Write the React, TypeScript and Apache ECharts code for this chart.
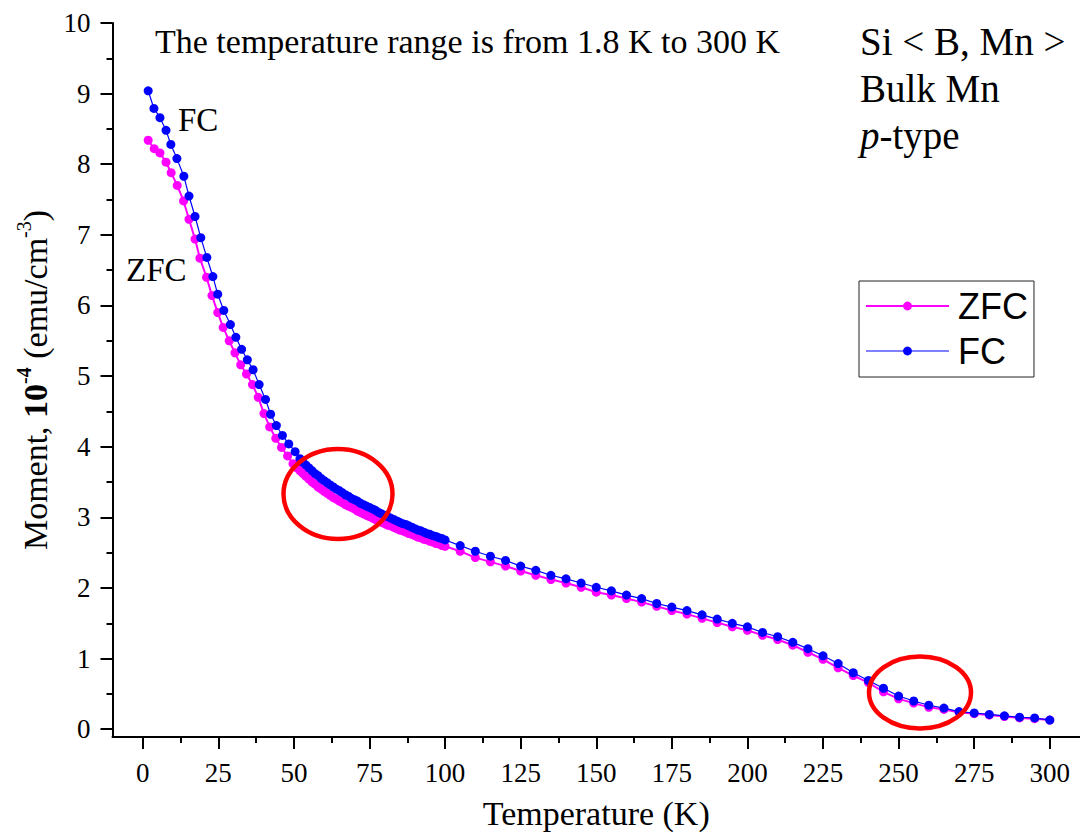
import React, { useEffect, useRef } from 'react';
import * as echarts from 'echarts';

// ---- data ----
const zfcLowT = [1.8, 3.8, 5.7, 7.7, 9.4, 11.4, 13.5, 15.3, 17.3, 18.9, 21.1, 22.9, 24.8, 26.6, 28.6, 30.5, 32.4, 34.3, 36.3, 38.2, 40.1, 42.0, 44.0, 45.9, 47.9, 49.7];
const zfcLowM = [8.34, 8.22, 8.16, 8.03, 7.88, 7.70, 7.48, 7.22, 6.94, 6.67, 6.40, 6.14, 5.90, 5.69, 5.50, 5.33, 5.16, 5.03, 4.88, 4.70, 4.47, 4.28, 4.12, 3.99, 3.87, 3.76];

const fcLowT = [1.8, 3.7, 5.7, 7.7, 9.3, 11.3, 13.6, 15.3, 17.3, 19.2, 21.2, 23.2, 24.8, 26.8, 29.0, 30.8, 32.7, 34.6, 36.5, 38.5, 40.6, 42.3, 44.2, 46.2, 48.3, 50.4];
const fcLowM = [9.04, 8.79, 8.66, 8.48, 8.28, 8.08, 7.83, 7.55, 7.26, 6.96, 6.68, 6.41, 6.16, 5.93, 5.73, 5.55, 5.38, 5.23, 5.09, 4.88, 4.67, 4.46, 4.30, 4.16, 4.04, 3.93];

const zfcDenseT = [51, 52, 53, 54, 55, 56, 57, 58, 59, 60, 61, 62, 63, 64, 65, 66, 67, 68, 69, 70, 71, 72, 73, 74, 75, 76, 77, 78, 79, 80, 81, 82, 83, 84, 85, 86, 87, 88, 89, 90, 91, 92, 93, 94, 95, 96, 97, 98, 99, 100];
const zfcDenseM = [3.70, 3.66, 3.62, 3.58, 3.54, 3.50, 3.47, 3.43, 3.40, 3.37, 3.34, 3.31, 3.28, 3.26, 3.23, 3.21, 3.18, 3.16, 3.14, 3.12, 3.09, 3.07, 3.05, 3.03, 3.01, 2.99, 2.97, 2.95, 2.93, 2.91, 2.89, 2.88, 2.86, 2.84, 2.82, 2.81, 2.79, 2.77, 2.76, 2.74, 2.72, 2.71, 2.69, 2.68, 2.66, 2.65, 2.63, 2.62, 2.60, 2.59];

const fcDenseT = [52, 53, 54, 55, 56, 57, 58, 59, 60, 61, 62, 63, 64, 65, 66, 67, 68, 69, 70, 71, 72, 73, 74, 75, 76, 77, 78, 79, 80, 81, 82, 83, 84, 85, 86, 87, 88, 89, 90, 91, 92, 93, 94, 95, 96, 97, 98, 99, 100];
const fcDenseM = [3.83, 3.78, 3.74, 3.70, 3.66, 3.62, 3.59, 3.55, 3.52, 3.49, 3.46, 3.43, 3.40, 3.38, 3.35, 3.32, 3.30, 3.27, 3.25, 3.23, 3.20, 3.18, 3.16, 3.14, 3.12, 3.10, 3.07, 3.05, 3.03, 3.01, 2.99, 2.97, 2.95, 2.93, 2.91, 2.90, 2.88, 2.86, 2.84, 2.82, 2.81, 2.79, 2.77, 2.76, 2.74, 2.73, 2.71, 2.70, 2.68];

const highT = [105, 110, 115, 120, 125, 130, 135, 140, 145, 150, 155, 160, 165, 170, 175, 180, 185, 190, 195, 200, 205, 210, 215, 220, 225, 230, 235, 240, 245, 250, 255, 260, 265, 270, 275, 280, 285, 290, 295, 300];
const zfcHighM = [2.52, 2.43, 2.37, 2.31, 2.24, 2.18, 2.12, 2.07, 2.01, 1.94, 1.90, 1.85, 1.80, 1.74, 1.68, 1.63, 1.57, 1.51, 1.45, 1.40, 1.33, 1.27, 1.19, 1.09, 0.99, 0.87, 0.76, 0.66, 0.53, 0.43, 0.37, 0.31, 0.28, 0.24, 0.22, 0.20, 0.18, 0.16, 0.15, 0.13];
const fcHighM = [2.60, 2.52, 2.45, 2.39, 2.31, 2.25, 2.18, 2.13, 2.07, 2.01, 1.96, 1.90, 1.85, 1.78, 1.73, 1.68, 1.62, 1.56, 1.50, 1.45, 1.37, 1.31, 1.23, 1.14, 1.04, 0.93, 0.80, 0.69, 0.58, 0.47, 0.40, 0.34, 0.30, 0.25, 0.23, 0.21, 0.19, 0.17, 0.16, 0.13];

const xMajorTicks = [0, 25, 50, 75, 100, 125, 150, 175, 200, 225, 250, 275, 300];
const xMinorTicks = [12.5, 37.5, 62.5, 87.5, 112.5, 137.5, 162.5, 187.5, 212.5, 237.5, 262.5, 287.5];
const yMajorTicks = [0, 1, 2, 3, 4, 5, 6, 7, 8, 9, 10];
const yMinorTicks = [0.5, 1.5, 2.5, 3.5, 4.5, 5.5, 6.5, 7.5, 8.5, 9.5];

const seriesNames = ['ZFC', 'FC'];

function pairs(t: number[], m: number[]) {
  return t.map((v, i) => [v, m[i]]);
}

export default function App() {
  const ref = useRef<HTMLDivElement>(null);

  useEffect(() => {
    const chart = echarts.init(ref.current as HTMLDivElement, null, { renderer: 'svg' });
    const serif = '"Liberation Serif", "Times New Roman", serif';
    const sans = '"Liberation Sans", Arial, sans-serif';

    const zfcData = [...pairs(zfcLowT, zfcLowM), ...pairs(zfcDenseT, zfcDenseM), ...pairs(highT, zfcHighM)];
    const fcData = [...pairs(fcLowT, fcLowM), ...pairs(fcDenseT, fcDenseM), ...pairs(highT, fcHighM)];

    const axisLineStyle = { color: '#000', width: 2 };

    const option: any = {
      animation: false,
      backgroundColor: '#fff',
      grid: { left: 112.5, top: 23, width: 970, height: 718.7, containLabel: false },
      xAxis: [
        {
          type: 'value', min: -10, max: 310,
          axisLine: { show: true, onZero: false, lineStyle: axisLineStyle },
          axisTick: { show: true, length: 12, lineStyle: { color: '#000', width: 2 }, customValues: xMajorTicks },
          axisLabel: { customValues: xMajorTicks, margin: 22, fontSize: 27, fontFamily: serif, color: '#000' },
          splitLine: { show: false },
          name: 'Temperature (K)', nameLocation: 'middle', nameGap: 59,
          nameTextStyle: { fontFamily: serif, fontSize: 34, color: '#000' },
        },
        {
          type: 'value', min: -10, max: 310, position: 'bottom',
          axisLine: { show: false, onZero: false },
          axisTick: { show: true, length: 6, lineStyle: { color: '#000', width: 2 }, customValues: xMinorTicks },
          axisLabel: { show: false },
          splitLine: { show: false },
        },
      ],
      yAxis: [
        {
          type: 'value', min: -0.11, max: 10,
          axisLine: { show: true, onZero: false, lineStyle: axisLineStyle },
          axisTick: { show: true, length: 12, lineStyle: { color: '#000', width: 2 }, customValues: yMajorTicks },
          axisLabel: { customValues: yMajorTicks, margin: 22, fontSize: 27, fontFamily: serif, color: '#000' },
          splitLine: { show: false },
          name: '{n|Moment, }{b|10}{bs|-4}{n| (emu/cm}{s|-3}{n|)}',
          nameLocation: 'middle', nameRotate: 90, nameGap: 55,
          nameTextStyle: {
            fontFamily: serif, fontSize: 34, color: '#000',
            rich: {
              n: { fontFamily: serif, fontSize: 34, color: '#000', lineHeight: 44 },
              b: { fontFamily: serif, fontSize: 34, fontWeight: 'bold', color: '#000', lineHeight: 44 },
              bs: { fontFamily: serif, fontSize: 20, fontWeight: 'bold', color: '#000', verticalAlign: 'top', lineHeight: 20 },
              s: { fontFamily: serif, fontSize: 20, color: '#000', verticalAlign: 'top', lineHeight: 20 },
            },
          },
        },
        {
          type: 'value', min: -0.11, max: 10, position: 'left',
          axisLine: { show: false, onZero: false },
          axisTick: { show: true, length: 6, lineStyle: { color: '#000', width: 2 }, customValues: yMinorTicks },
          axisLabel: { show: false },
          splitLine: { show: false },
        },
      ],
      legend: {
        left: 859, top: 281, orient: 'vertical',
        itemWidth: 83, itemHeight: 11, itemGap: 5,
        padding: [5, 6, 6, 6],
        borderColor: '#222', borderWidth: 1,
        textStyle: { fontFamily: sans, fontSize: 36, lineHeight: 40, color: '#000', padding: [0, 0, 0, 4] },
        data: [
          { name: seriesNames[0], lineStyle: { color: '#ff00ff', width: 2 } },
          { name: seriesNames[1], lineStyle: { color: '#8080ff', width: 2 } },
        ],
      },
      series: [
        {
          name: seriesNames[0], type: 'line', data: zfcData,
          symbol: 'circle', symbolSize: 9, showSymbol: true, showAllSymbol: true,
          itemStyle: { color: '#ff00ff' }, lineStyle: { color: '#ff00ff', width: 2 },
          z: 2,
        },
        {
          name: seriesNames[1], type: 'line', data: fcData,
          symbol: 'circle', symbolSize: 9, showSymbol: true, showAllSymbol: true,
          itemStyle: { color: '#0000ff' }, lineStyle: { color: '#0000ff', width: 1.2 },
          z: 3,
        },
      ],
      graphic: [
        { type: 'text', x: 155, y: 41, z: 10, style: { text: 'The temperature range is from 1.8 K to 300 K', fontFamily: serif, fontSize: 34, fill: '#000', verticalAlign: 'middle' } },
        { type: 'text', x: 860, y: 41, z: 10, style: { text: 'Si < B, Mn >', fontFamily: serif, fontSize: 39, fill: '#000', verticalAlign: 'middle' } },
        { type: 'text', x: 860, y: 88, z: 10, style: { text: 'Bulk Mn', fontFamily: serif, fontSize: 39, fill: '#000', verticalAlign: 'middle' } },
        {
          type: 'text', x: 860, y: 135, z: 10,
          style: {
            text: '{i|p}{n|-type}', fontFamily: serif, fontSize: 39, fill: '#000', verticalAlign: 'middle',
            rich: {
              i: { fontFamily: serif, fontSize: 39, fontStyle: 'italic', fill: '#000' },
              n: { fontFamily: serif, fontSize: 39, fill: '#000' },
            },
          },
        },
        { type: 'text', x: 178, y: 120, z: 10, style: { text: 'FC', fontFamily: serif, fontSize: 33, fill: '#000', verticalAlign: 'middle' } },
        { type: 'text', x: 126, y: 270, z: 10, style: { text: 'ZFC', fontFamily: serif, fontSize: 33, fill: '#000', verticalAlign: 'middle' } },
        { type: 'ellipse', z: 20, shape: { cx: 338, cy: 494, rx: 54.5, ry: 45 }, style: { fill: 'none', stroke: '#ff0000', lineWidth: 4.5 } },
        { type: 'ellipse', z: 20, shape: { cx: 920, cy: 692.5, rx: 51, ry: 36 }, style: { fill: 'none', stroke: '#ff0000', lineWidth: 4.5 } },
      ],
    };

    chart.setOption(option);
    return () => chart.dispose();
  }, []);

  return (
    <div
      ref={ref}
      style={{ position: 'fixed', left: 0, top: 0, width: 1080, height: 835, background: '#fff' }}
    />
  );
}
